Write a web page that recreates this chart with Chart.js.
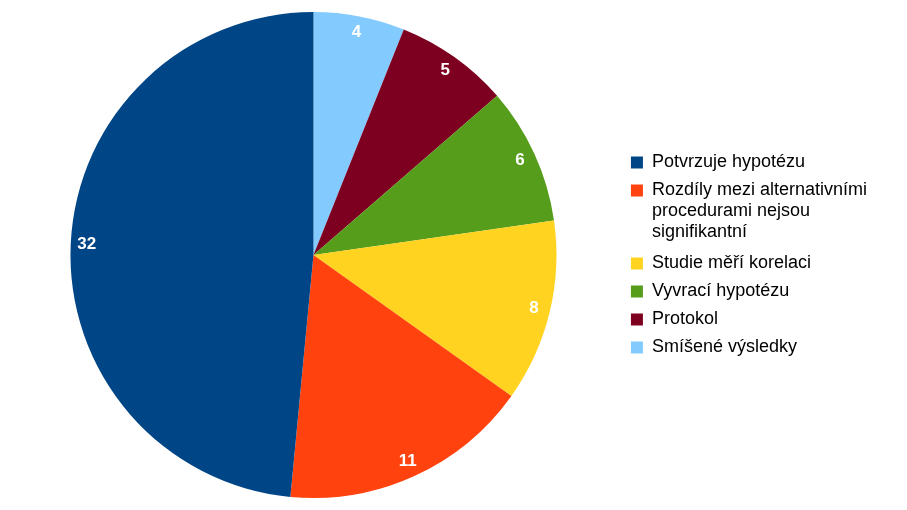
<!DOCTYPE html>
<html>
<head>
<meta charset="utf-8">
<script src="https://cdn.jsdelivr.net/npm/chart.js@4/dist/chart.umd.min.js"></script>
<style>
  html, body { margin: 0; padding: 0; background: #fff; }
  #wrap { width: 907px; height: 510px; }
</style>
</head>
<body>
<div id="wrap"><canvas id="pieChart"></canvas></div>
<script>
// slices in clockwise order from the top; legend is shown reversed
const categories = [
  'Smíšené výsledky',
  'Protokol',
  'Vyvrací hypotézu',
  'Studie měří korelaci',
  ['Rozdíly mezi alternativními', 'procedurami nejsou', 'signifikantní'],
  'Potvrzuje hypotézu',
]
const counts = [4, 5, 6, 8, 11, 32]
const colors = ['#83caff', '#7e0021', '#579d1c', '#ffd320', '#ff420e', '#004586']

// white value labels near the rim of each slice
const sliceLabels = {
  id: 'sliceLabels',
  afterDatasetsDraw(chart) {
    const ctx = chart.ctx
    const meta = chart.getDatasetMeta(0)
    ctx.save()
    ctx.fillStyle = '#fff'
    ctx.font = 'bold 17px "Liberation Sans", Arial, sans-serif'
    ctx.textAlign = 'center'
    ctx.textBaseline = 'middle'
    meta.data.forEach((arc, i) => {
      const { x, y, startAngle, endAngle, outerRadius } = arc.getProps(
        ['x', 'y', 'startAngle', 'endAngle', 'outerRadius'],
        true
      )
      const mid = (startAngle + endAngle) / 2
      const r = outerRadius - 16
      ctx.fillText(String(counts[i]), x + Math.cos(mid) * r, y + Math.sin(mid) * r)
    })
    ctx.restore()
  },
}

const pieCtx = document.getElementById('pieChart')
new Chart(pieCtx, {
  type: 'pie',
  data: {
    labels: categories,
    datasets: [
      {
        data: counts,
        backgroundColor: colors,
        borderWidth: 0,
      },
    ],
  },
  options: {
    responsive: true,
    maintainAspectRatio: false,
    animation: false,
    events: [],
    layout: { padding: { top: 12, bottom: 12, left: 6, right: 30 } },
    plugins: {
      tooltip: { enabled: false },
      legend: {
        position: 'right',
        reverse: true,
        labels: {
          boxWidth: 12,
          boxHeight: 12,
          padding: 10,
          color: '#000',
          font: { family: '"Liberation Sans", Arial, sans-serif', size: 18, lineHeight: '21px' },
        },
      },
    },
  },
  plugins: [sliceLabels],
})
</script>
</body>
</html>
